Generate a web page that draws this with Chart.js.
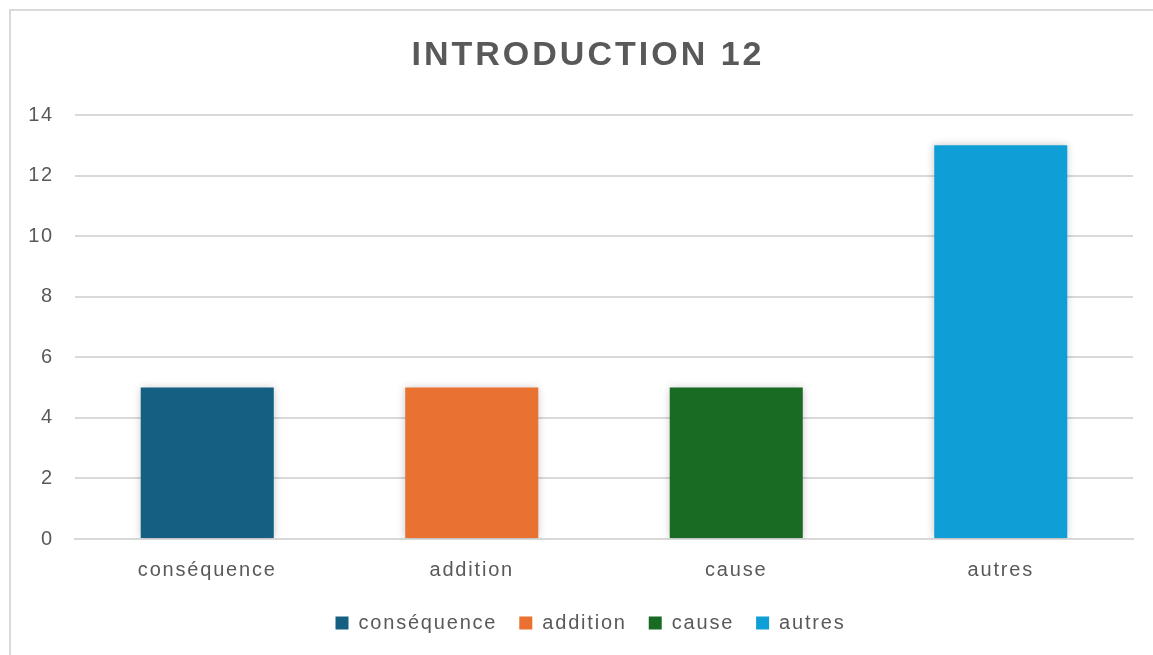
<!DOCTYPE html>
<html lang="fr">
<head>
  <meta charset="UTF-8" />
  <title>Introduction 12</title>
  <script src="https://cdn.jsdelivr.net/npm/chart.js"></script>
  <style>
    html, body { margin: 0; padding: 0; background: #fff; overflow: hidden; }
    .frame {
      position: absolute;
      left: 9px; top: 9px;
      width: 1200px; height: 700px;
      border: 2px solid #d9d9d9;
    }
    .wrap {
      position: absolute;
      left: 0; top: 0;
      width: 1153px; height: 655px;
    }
  </style>
</head>
<body>
  <div class="frame"></div>
  <div class="wrap"><canvas id="chart"></canvas></div>

  <script>
    const chartTitle = 'INTRODUCTION 12';
    const categories = ['conséquence', 'addition', 'cause', 'autres'];
    const values = [5, 5, 5, 13];
    const barColors = ['#156082', '#E97132', '#196B24', '#0F9ED5'];
    const yTicks = [0, 2, 4, 6, 8, 10, 12, 14];

    const textGray = '#595959';
    const fontFamily = '"Liberation Sans", Arial, sans-serif';

    // Office font is a bit wider than Arial, so spread the letters
    const letterSpacing = {
      id: 'letterSpacing',
      beforeUpdate(chart) { chart.ctx.letterSpacing = '1.8px'; },
      beforeDraw(chart) { chart.ctx.letterSpacing = '1.8px'; }
    };

    // legend sits a little right of the canvas centre and closer to the axis labels
    const legendShift = {
      id: 'legendShift',
      afterLayout(chart) {
        const lg = chart.legend;
        lg.left += 24; lg.right += 24;
        lg.top -= 10; lg.bottom -= 10;
      }
    };

    // title drawn by hand so it can get its own spacing
    const titlePlugin = {
      id: 'bigTitle',
      afterDraw(chart) {
        const ctx = chart.ctx;
        ctx.save();
        ctx.letterSpacing = '3px';
        ctx.font = 'bold 34px ' + fontFamily;
        ctx.fillStyle = textGray;
        ctx.textAlign = 'center';
        ctx.textBaseline = 'middle';
        ctx.fillText(chartTitle, 588, 56);
        ctx.restore();
      }
    };

    // soft shadow round the bars
    const barShadow = {
      id: 'barShadow',
      beforeDatasetsDraw(chart) {
        const ctx = chart.ctx;
        ctx.save();
        ctx.shadowColor = 'rgba(0,0,0,0.22)';
        ctx.shadowBlur = 8;
      },
      afterDatasetsDraw(chart) {
        chart.ctx.restore();
      }
    };

    new Chart(document.getElementById('chart'), {
      type: 'bar',
      data: {
        labels: categories,
        datasets: [{
          data: values,
          backgroundColor: barColors,
          barPercentage: 0.503,
          categoryPercentage: 1
        }]
      },
      plugins: [letterSpacing, legendShift, titlePlugin, barShadow],
      options: {
        responsive: true,
        maintainAspectRatio: false,
        animation: false,
        layout: { padding: { left: 0, right: 20, top: 115, bottom: 2 } },
        plugins: {
          title: { display: false },
          legend: {
            position: 'bottom',
            labels: {
              color: textGray,
              font: { family: fontFamily, size: 20 },
              boxWidth: 13,
              boxHeight: 13,
              padding: 22,
              generateLabels: (chart) => categories.map((c, i) => ({
                text: c,
                fillStyle: barColors[i],
                strokeStyle: barColors[i],
                lineWidth: 0,
                fontColor: textGray,
                index: i
              }))
            },
            onClick: () => {}
          },
          tooltip: { enabled: false }
        },
        scales: {
          x: {
            grid: { display: false, drawTicks: false },
            border: { display: true, color: '#d9d9d9', width: 2 },
            ticks: {
              color: textGray,
              font: { family: fontFamily, size: 20 },
              padding: 19
            }
          },
          y: {
            min: 0,
            max: 14,
            afterBuildTicks: (axis) => { axis.ticks = yTicks.map(v => ({ value: v })); },
            afterFit: (axis) => { axis.width = 75; },
            grid: { color: '#d9d9d9', lineWidth: 2, drawTicks: false },
            border: { display: false },
            ticks: {
              color: textGray,
              font: { family: fontFamily, size: 20 },
              padding: 21
            }
          }
        }
      }
    });
  </script>
</body>
</html>
